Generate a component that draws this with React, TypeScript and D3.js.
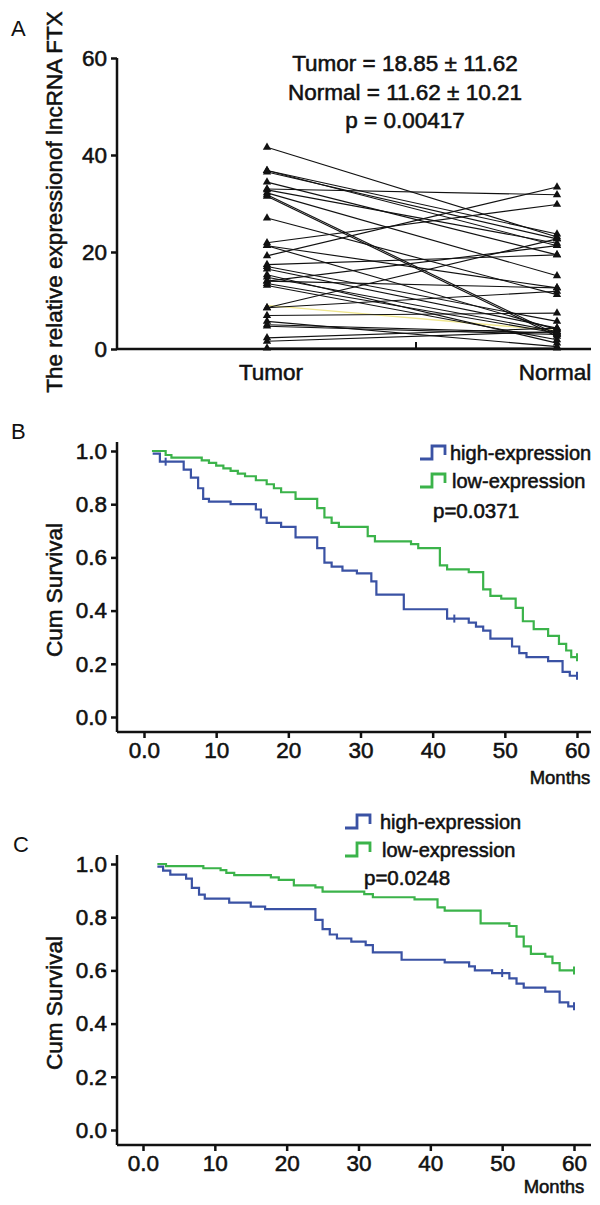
import React, { useEffect, useRef } from "react";
import * as d3 from "d3";

const FONT = "'Liberation Sans', Arial, Helvetica, sans-serif";
const INK = "#111";
const BLUE = "#3a52a4";
const GREEN = "#3bb34a";

// Panel A: paired lncRNA FTX expression (each tumor value joined to its normal value)
const pairGroups = ["Tumor", "Normal"];
const tumorValues = [41.6, 36.8, 36.8, 36.5, 34.4, 33.0, 32.8, 32.2, 31.8, 31.5, 27.0, 21.9, 21.3, 21.3, 19.2, 17.4, 17.0, 16.5, 15.3, 14.8, 14.0, 14.0, 13.5, 13.1, 8.5, 8.5, 6.9, 5.7, 5.0, 4.7, 2.3, 1.6, 0.2];
const normalValues = [23.1, 23.7, 21.3, 22.7, 19.4, 31.8, 21.8, 15.1, 3.0, 2.6, 11.2, 29.8, 12.6, 4.0, 33.4, 19.4, 5.7, 4.3, 1.2, 3.6, 12.6, 21.3, 3.3, 1.9, 22.7, 11.9, 7.4, 0.5, 3.3, 3.0, 4.3, 3.6, 0.2];
const paleTumor = [9.0];
const paleNormal = [3.8];
const exprTicks = [0, 20, 40, 60];
const statLines = ["Tumor = 18.85 \u00b1 11.62", "Normal = 11.62 \u00b1 10.21", "p = 0.00417"];

// Panel B: Kaplan-Meier, step times (months) and survival after each step
const bHighTimes = [1.2, 2.2, 5.5, 6.5, 7.5, 8.2, 9, 12, 15.5, 16.2, 17, 19, 21, 24, 25, 26, 27.5, 29.5, 31.5, 32.2, 36, 42, 45, 46, 47, 48, 51, 52, 53, 56, 58, 59, 60];
const bHighSurv = [0.99, 0.96, 0.93, 0.9, 0.86, 0.82, 0.81, 0.8, 0.78, 0.75, 0.73, 0.715, 0.675, 0.635, 0.58, 0.565, 0.55, 0.54, 0.51, 0.46, 0.405, 0.37, 0.355, 0.34, 0.325, 0.295, 0.265, 0.24, 0.225, 0.21, 0.17, 0.155, 0.155];
const bHighCensor = [3, 43, 60];
const bLowTimes = [1.1, 3, 3.8, 8, 9, 10, 11, 12, 13, 14, 15.5, 17, 18, 19, 21, 24, 25, 26, 27, 31, 32, 37, 38, 41, 42, 45, 47, 48, 49.5, 51.5, 52.5, 54, 56, 57.5, 58.5, 59.2, 60];
const bLowSurv = [1.0, 0.985, 0.975, 0.965, 0.955, 0.945, 0.935, 0.925, 0.915, 0.905, 0.89, 0.875, 0.86, 0.845, 0.82, 0.785, 0.75, 0.73, 0.715, 0.68, 0.66, 0.65, 0.635, 0.57, 0.555, 0.545, 0.48, 0.455, 0.445, 0.41, 0.36, 0.33, 0.305, 0.275, 0.25, 0.225, 0.225];
const bLowCensor = [60];

// Panel C
const cHighTimes = [2.0, 2.8, 3.8, 6, 6.8, 7.8, 8.6, 12, 15, 17, 24, 25, 26, 27, 29, 31, 32, 36, 42, 45.4, 46.2, 48.6, 51, 52, 53, 56, 58, 59.2, 60];
const cHighSurv = [0.99, 0.975, 0.96, 0.945, 0.91, 0.885, 0.87, 0.855, 0.84, 0.83, 0.79, 0.755, 0.735, 0.72, 0.708, 0.695, 0.668, 0.64, 0.63, 0.615, 0.6, 0.59, 0.57, 0.55, 0.535, 0.52, 0.48, 0.465, 0.465];
const cHighCensor = [50, 60];
const cLowTimes = [2.0, 3.2, 8.4, 10.8, 11.6, 12.7, 17.8, 18.9, 21, 24, 25, 30.8, 32, 37.8, 41, 42, 47, 51, 52, 53, 54, 56, 57, 58, 60];
const cLowSurv = [1.0, 0.992, 0.984, 0.977, 0.967, 0.958, 0.95, 0.94, 0.92, 0.912, 0.896, 0.887, 0.875, 0.867, 0.837, 0.825, 0.777, 0.767, 0.727, 0.69, 0.662, 0.652, 0.627, 0.6, 0.6];
const cLowCensor = [60];

const monthTicks = [0, 10, 20, 30, 40, 50, 60];
const survTicks = [0, 0.2, 0.4, 0.6, 0.8, 1.0];
const legendLabels = ["high-expression", "low-expression"];

const Axis = ({ scale, orient, transform, tickValues, format, tickSize = 6 }) => {
  const axisRef = useRef(null);

  useEffect(() => {
    const gen = orient === "bottom" ? d3.axisBottom(scale) : d3.axisLeft(scale);
    gen.tickValues(tickValues).tickFormat(format).tickSize(tickSize).tickSizeOuter(0).tickPadding(4);
    const g = d3.select(axisRef.current).call(gen);
    g.select(".domain").remove();
    g.selectAll(".tick line").attr("stroke", INK).attr("stroke-width", 2.5);
    g.selectAll(".tick text")
      .attr("font-family", FONT)
      .attr("font-size", 22.5)
      .attr("fill", INK)
      .attr("stroke", INK)
      .attr("stroke-width", 0.55);
  }, [scale, orient]);

  return <g ref={axisRef} transform={transform} />;
};

// heavier text, the figure's labels look semi-bold
const bold = { fontFamily: FONT, fill: INK, stroke: INK, strokeWidth: 0.55 };

const PairedPanel = () => {
  const x = d3.scalePoint().domain(pairGroups).range([267, 557]);
  const y = d3.scaleLinear().domain([0, 60]).range([349, 58]);
  const tri = d3.symbol(d3.symbolTriangle).size(30)();

  return (
    <g>
      <text x={11} y={36} fontFamily={FONT} fontSize={22} fill={INK}>A</text>
      <text
        transform={`translate(54,202) rotate(-90)`}
        textAnchor="middle"
        dominantBaseline="central"
        fontSize={22.5}
        style={bold}
      >
        The relative expressionof lncRNA FTX
      </text>
      {statLines.map((s, i) => (
        <text key={s} x={405} y={71 + i * 28.5} textAnchor="middle" fontSize={22.5} style={bold}>
          {s}
        </text>
      ))}
      {paleTumor.map((v, i) => (
        <line key={"p" + i} x1={x("Tumor")} y1={y(v)} x2={x("Normal")} y2={y(paleNormal[i])}
          stroke="#efe68e" strokeWidth={1.3} />
      ))}
      {tumorValues.map((v, i) => (
        <line key={i} x1={x("Tumor")} y1={y(v)} x2={x("Normal")} y2={y(normalValues[i])}
          stroke={INK} strokeWidth={1.15} />
      ))}
      {tumorValues.map((v, i) => (
        <path key={"t" + i} d={tri} transform={`translate(${x("Tumor")},${y(v)})`} fill={INK} />
      ))}
      {normalValues.map((v, i) => (
        <path key={"n" + i} d={tri} transform={`translate(${x("Normal")},${y(v)})`} fill={INK} />
      ))}
      <Axis scale={y} orient="left" transform="translate(117,0)" tickValues={exprTicks} format={d3.format("d")} />
      <line x1={117} x2={117} y1={58} y2={349} stroke={INK} strokeWidth={2.5} />
      <line x1={117} x2={591} y1={349} y2={349} stroke={INK} strokeWidth={2.5} />
      <line x1={416} x2={416} y1={349} y2={342} stroke={INK} strokeWidth={2} />
      {pairGroups.map((g, i) => (
        <text key={g} x={i === 0 ? 271 : 555} y={380} textAnchor="middle" fontSize={22.5} style={bold}>
          {g}
        </text>
      ))}
    </g>
  );
};

const toSteps = (times, surv) => times.map((t, i) => [t, surv[i]]);
const survAt = (times, surv, t) => {
  let s = surv[0];
  times.forEach((tt, i) => {
    if (tt <= t) s = surv[i];
  });
  return s;
};

const SurvivalPanel = ({ top, letter, letterX, xRange, series, legendX, legendY, textX, pText, pX, pY, monthsX, monthsDy }) => {
  const x = d3.scaleLinear().domain([0, 60]).range(xRange);
  const y = d3.scaleLinear().domain([0, 1]).range([top + 275, top + 9]);
  const step = d3.line().x((d) => x(d[0])).y((d) => y(d[1])).curve(d3.curveStepAfter);
  const axisY = top + 290;

  return (
    <g>
      <text x={letterX} y={top - 3} fontFamily={FONT} fontSize={22} fill={INK}>{letter}</text>
      <text
        transform={`translate(54,${top + 148}) rotate(-90)`}
        textAnchor="middle"
        dominantBaseline="central"
        fontSize={22.5}
        style={bold}
      >
        Cum Survival
      </text>
      {series.map((s) => (
        <g key={s.color}>
          <path d={step(toSteps(s.times, s.surv))} fill="none" stroke={s.color} strokeWidth={2.2} />
          {s.censor.map((c) => (
            <line key={c} x1={x(c)} x2={x(c)}
              y1={y(survAt(s.times, s.surv, c)) - 4} y2={y(survAt(s.times, s.surv, c)) + 4}
              stroke={s.color} strokeWidth={2} />
          ))}
        </g>
      ))}
      <Axis scale={y} orient="left" transform="translate(117,0)" tickValues={survTicks} format={d3.format(".1f")} />
      <Axis scale={x} orient="bottom" transform={`translate(0,${axisY})`} tickValues={monthTicks}
        format={(d) => (d === 0 ? "0.0" : String(d))} />
      <line x1={117} x2={117} y1={top} y2={axisY} stroke={INK} strokeWidth={2.5} />
      <line x1={117} x2={591} y1={axisY} y2={axisY} stroke={INK} strokeWidth={2.5} />
      <text x={monthsX} y={axisY + monthsDy} textAnchor="middle" fontSize={18.5} style={bold}>Months</text>
      {series.map((s, i) => (
        <g key={"lg" + i} transform={`translate(${legendX},${legendY + i * 28})`}>
          <path d="M0,6 H12 V-7 H25 V2" fill="none" stroke={s.color} strokeWidth={2.8} />
          <text x={textX - legendX + (i === 1 ? 2 : 0)} y={0} dominantBaseline="central" fontSize={20} style={bold}>
            {legendLabels[i]}
          </text>
        </g>
      ))}
      <text x={pX} y={pY} dominantBaseline="central" fontSize={20.5} style={bold}>{pText}</text>
    </g>
  );
};

const App = () => (
  <svg width={600} height={1205} style={{ position: "absolute", left: 0, top: 0, background: "#fff" }}>
    <PairedPanel />
    <SurvivalPanel
      top={442}
      letter="B"
      letterX={11}
      xRange={[144, 577]}
      series={[
        { color: BLUE, times: bHighTimes, surv: bHighSurv, censor: bHighCensor },
        { color: GREEN, times: bLowTimes, surv: bLowSurv, censor: bLowCensor },
      ]}
      legendX={420}
      legendY={453}
      textX={450}
      pText="p=0.0371"
      pX={433}
      pY={510}
      monthsX={560}
      monthsDy={52}
    />
    <SurvivalPanel
      top={855}
      letter="C"
      letterX={13}
      xRange={[143, 574]}
      series={[
        { color: BLUE, times: cHighTimes, surv: cHighSurv, censor: cHighCensor },
        { color: GREEN, times: cLowTimes, surv: cLowSurv, censor: cLowCensor },
      ]}
      legendX={345}
      legendY={822}
      textX={380}
      pText="p=0.0248"
      pX={364}
      pY={877}
      monthsX={554}
      monthsDy={48}
    />
  </svg>
);

export default App;
